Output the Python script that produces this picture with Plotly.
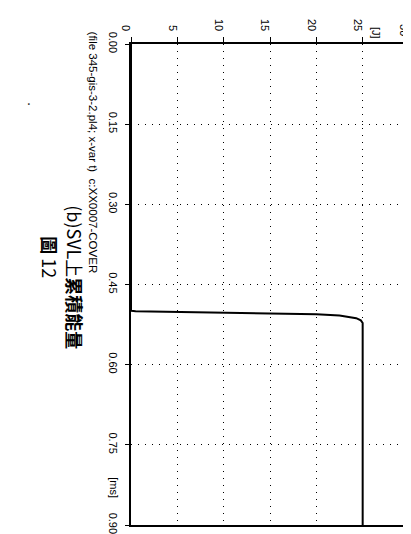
import plotly.graph_objects as go

# Data (time in ms, accumulated energy in J)
time_ms = [0.0, 0.499, 0.500, 0.503, 0.5056, 0.508, 0.513, 0.517, 0.522, 0.90]
energy_J = [0.0, 0.0, 0.5, 12.0, 20.0, 22.5, 24.3, 24.8, 25.0, 25.0]

energy_ticks = [0, 5, 10, 15, 20, 25, 30]
energy_tick_labels = ["0", "5", "10", "15", "20", "25", ""]
energy_last_label = "30"
time_ticks = [0.00, 0.15, 0.30, 0.45, 0.60, 0.75, 0.90]
time_tick_labels = ["0.00", "0.15", "0.30", "0.45", "0.60", "0.75", "0.90"]

W, H = 411, 534
L, R, T, B = 123, 8, 36, 12
pw, ph = W - L - R, H - T - B
ROT_SHIFT = 5  # rotated text renders ~5px right of its anchor


def px(xp):
    return (xp - ROT_SHIFT - L) / pw


def py(yp):
    return (H - B - yp) / ph


fig = go.Figure()
fig.add_trace(go.Scatter(x=energy_J, y=time_ms, mode="lines",
                         line=dict(color="black", width=2), showlegend=False,
                         cliponaxis=False))

tick_font = dict(family="Liberation Sans, Arial, sans-serif", size=11, color="black")

fig.update_layout(
    width=W, height=H,
    margin=dict(l=L, r=R, t=T, b=B, pad=0),
    paper_bgcolor="white", plot_bgcolor="white",
    xaxis=dict(side="top", range=[0, 30], tickvals=energy_ticks,
               ticktext=energy_tick_labels, tickangle=90,
               ticks="outside", ticklen=5, tickcolor="black", tickwidth=1,
               ticklabelshift=-5, ticklabelstandoff=2,
               showline=True, linecolor="black", linewidth=2, mirror=True,
               showgrid=True, gridcolor="black", gridwidth=1, griddash="1px,6px",
               zeroline=False, tickfont=tick_font),
    yaxis=dict(range=[0.9, 0], tickvals=time_ticks, ticktext=time_tick_labels,
               tickangle=90, ticks="outside", ticklen=4, tickcolor="black", tickwidth=1,
               ticklabelstandoff=3,
               showline=True, linecolor="black", linewidth=2, mirror=True,
               showgrid=True, gridcolor="black", gridwidth=1, griddash="1px,6px",
               zeroline=False, tickfont=tick_font),
)

ann_font = dict(family="Liberation Sans, Arial, sans-serif", color="black")
anns = [
    dict(text=energy_last_label, x=px(403), y=py(22), font=dict(size=11, **ann_font)),
    dict(text="[J]", x=px(375), y=py(25), font=dict(size=11, **ann_font)),
    dict(text="[ms]", x=px(110), y=py(484), font=dict(size=11, **ann_font)),
    dict(text="(file 345-gis-3-2.pl4; x-var t)  c:XX0007-COVER", x=px(90), y=py(146),
         font=dict(size=11.5, **ann_font)),
    dict(text="(b)SVL上<b>累積能量</b>", x=px(72), y=py(272),
         font=dict(size=18, family="Noto Sans CJK TC, Liberation Sans", color="black")),
    dict(text="<b>圖</b> 12", x=px(47), y=py(251),
         font=dict(size=18, family="Noto Sans CJK TC, Liberation Sans", color="black")),
    dict(text="·", x=px(26), y=py(97), font=dict(size=14, **ann_font)),
]
for a in anns:
    fig.add_annotation(xref="paper", yref="paper", showarrow=False, textangle=90,
                       xanchor="center", yanchor="middle", **a)

fig.write_html("out.html", config={"displayModeBar": False})
